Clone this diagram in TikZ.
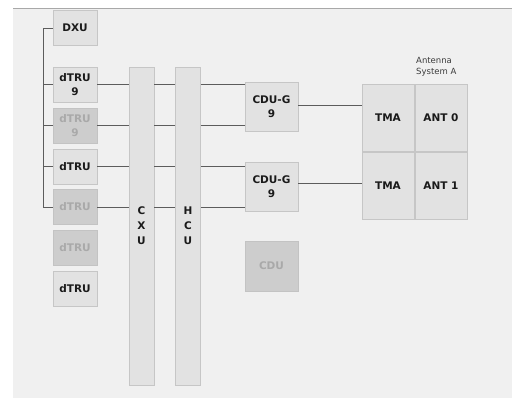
\documentclass[tikz,border=0pt]{standalone}
\usepackage{fontspec}
\setmainfont{DejaVu Sans}
\usepackage{tikz}
\usetikzlibrary{positioning,calc}
\definecolor{PanelGray}{HTML}{F0F0F0}
\definecolor{PanelEdge}{HTML}{A8A8A8}
\definecolor{UnitFill}{HTML}{E2E2E2}
\definecolor{UnitEdge}{HTML}{C6C6C6}
\definecolor{OffFill}{HTML}{CDCDCD}
\definecolor{OffText}{HTML}{A9A9A9}
\definecolor{LinkGray}{HTML}{5C5C5C}
\definecolor{TextDark}{HTML}{1A1A1A}

\tikzset{
  unit/.style={draw=UnitEdge, fill=UnitFill, line width=0.9pt, inner sep=0pt,
    align=center, text=TextDark, font=\fontsize{10.5}{14.5}\selectfont\bfseries},
  unitoff/.style={unit, fill=OffFill, draw=OffFill!95!black, text=OffText},
  trubox/.style={minimum width=44pt, minimum height=35pt},
  cdubox/.style={minimum width=53pt, minimum height=49pt},
  antbox/.style={minimum width=52pt, minimum height=67pt},
  busbar/.style={minimum width=25pt, minimum height=318pt},
  link/.style={draw=LinkGray, line width=0.9pt}
}

\begin{document}
\begin{tikzpicture}[x=1pt, y=-1pt]
      \useasboundingbox (0,0) rectangle (512,398);
      \fill[white] (0,0) rectangle (512,398);
      \fill[PanelGray] (13,8) rectangle (512,398);
      \draw[PanelEdge, line width=1.5pt] (13,8.5) -- (512,8.5);

      % radio units
      \node[unit, trubox]    (dxu)  at (75,28)    {DXU};
      \node[unit, trubox]    (tru1) at (75,84.5)  {dTRU\\9};
      \node[unitoff, trubox] (tru2) at (75,125.5) {dTRU\\9};
      \node[unit, trubox]    (tru3) at (75,166.5) {dTRU};
      \node[unitoff, trubox] (tru4) at (75,207)   {dTRU};
      \node[unitoff, trubox] (tru5) at (75,248)   {dTRU};
      \node[unit, trubox]    (tru6) at (75,289)   {dTRU};

      % buses
      \node[unit, busbar, font=\fontsize{10.5}{15}\selectfont\bfseries] (cxu) at (141.5,226) {C\\X\\U};
      \node[unit, busbar, font=\fontsize{10.5}{15}\selectfont\bfseries] (hcu) at (188,226)   {H\\C\\U};

      % combiners
      \node[unit, cdubox]    (cdug1) at (271.5,106.5) {CDU-G\\9};
      \node[unit, cdubox]    (cdug2) at (271.5,186.5) {CDU-G\\9};
      \node[unitoff, cdubox, minimum height=50pt] (cdu) at (271.5,266) {CDU};

      % antenna system
      \node[unit, antbox] (tma0) at (388,117.5) {TMA};
      \node[unit, antbox] (ant0) at (441,117.5) {ANT 0};
      \node[unit, antbox] (tma1) at (388,185.5) {TMA};
      \node[unit, antbox] (ant1) at (441,185.5) {ANT 1};
      \node[anchor=north west, align=left, inner sep=0pt, text=TextDark!85,
            font=\fontsize{8.5}{11}\selectfont] (antsys) at (416,57) {Antenna\\System A};

      % left bus
      \coordinate (bus) at (43,0);
      \draw[link] (dxu.west) -- (dxu.west -| bus) -- (tru4.west -| bus) -- (tru4.west);
      \foreach \i in {1,2,3}
        \draw[link] (tru\i.west -| bus) -- (tru\i.west);

      % links to combiners
      \foreach \i/\c in {1/cdug1,2/cdug1,3/cdug2,4/cdug2} {
        \draw[link] (tru\i.east) -- (tru\i.east -| cxu.west);
        \draw[link] (tru\i.east -| cxu.east) -- (tru\i.east -| hcu.west);
        \draw[link] (tru\i.east -| hcu.east) -- (tru\i.east -| \c.west);
      }
      \draw[link] ($(cdug1.east)+(0,-1.5)$) -- ($(cdug1.east -| tma0.west)+(0,-1.5)$);
      \draw[link] ($(cdug2.east)+(0,-3.5)$) -- ($(cdug2.east -| tma1.west)+(0,-3.5)$);
    \end{tikzpicture}
\end{document}
